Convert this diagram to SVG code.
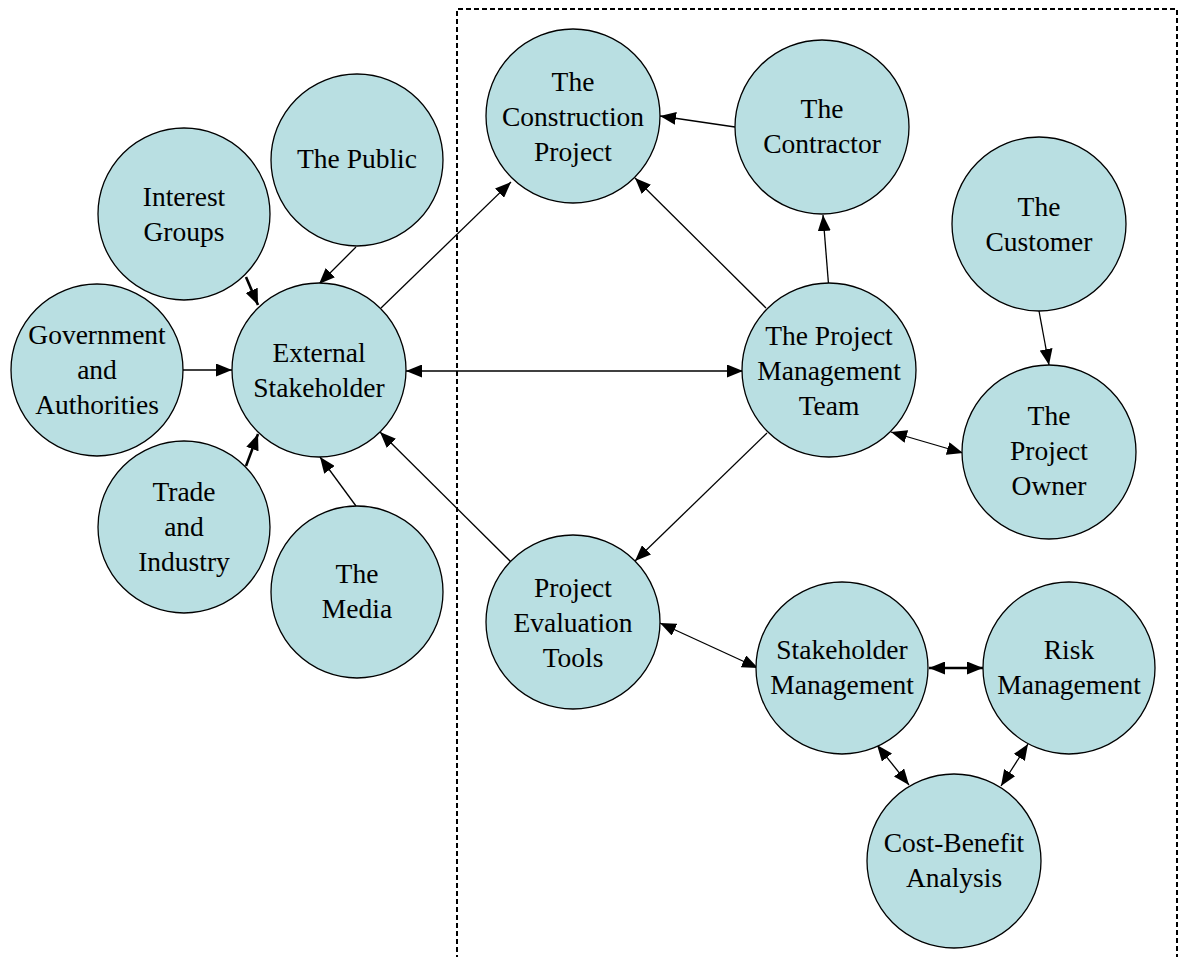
<svg xmlns="http://www.w3.org/2000/svg" width="1180" height="957" viewBox="0 0 1180 957">
  <style>
    .node circle { fill: #b9dfe2; stroke: #000; stroke-width: 1.3; }
    .node text { font-family: "Liberation Serif", "Times New Roman", serif; font-size: 27.5px; fill: #000; text-anchor: middle; }
    .edge { stroke: #000; stroke-width: 1.3; fill: none; }
    .bold { stroke-width: 2.6; }
    .frame { fill: none; stroke: #000; stroke-width: 2; stroke-dasharray: 5 3; }
  </style>
  <defs>
    <marker id="arrow" viewBox="0 0 16 13" refX="16" refY="6.5" markerWidth="16" markerHeight="13" markerUnits="userSpaceOnUse" orient="auto-start-reverse">
      <path d="M0,0 L16,6.5 L0,13 Z" fill="#000"/>
    </marker>
  </defs>

  <rect id="white" width="1180" height="957" fill="#fff"/>

  <!-- project boundary (dashed, open at the bottom) -->
  <path class="frame" d="M457,960 V9 H1177 V960"/>

  <!-- connectors -->
  <g id="connectors">
    <line class="edge bold" x1="246" y1="277" x2="258" y2="305" marker-end="url(#arrow)"/>
    <line class="edge" x1="356" y1="247" x2="319" y2="284" marker-end="url(#arrow)"/>
    <line class="edge" x1="183" y1="370" x2="232" y2="370" marker-end="url(#arrow)"/>
    <line class="edge bold" x1="246" y1="466" x2="258" y2="434" marker-end="url(#arrow)"/>
    <line class="edge" x1="356" y1="506" x2="320" y2="457" marker-end="url(#arrow)"/>
    <line class="edge" x1="511" y1="562" x2="380" y2="432" marker-end="url(#arrow)"/>
    <line class="edge" x1="381" y1="308" x2="511" y2="182" marker-end="url(#arrow)"/>
    <line class="edge" x1="406" y1="371" x2="743" y2="371" marker-start="url(#arrow)" marker-end="url(#arrow)"/>
    <line class="edge" x1="735" y1="127" x2="660" y2="116" marker-end="url(#arrow)"/>
    <line class="edge" x1="766" y1="308" x2="635" y2="178" marker-end="url(#arrow)"/>
    <line class="edge" x1="828.5" y1="284" x2="823" y2="215" marker-end="url(#arrow)"/>
    <line class="edge" x1="1039" y1="311" x2="1049" y2="365" marker-end="url(#arrow)"/>
    <line class="edge" x1="891" y1="432" x2="963" y2="453" marker-start="url(#arrow)" marker-end="url(#arrow)"/>
    <line class="edge" x1="767" y1="433" x2="635" y2="561" marker-end="url(#arrow)"/>
    <line class="edge" x1="660" y1="623" x2="758" y2="668" marker-start="url(#arrow)" marker-end="url(#arrow)"/>
    <line class="edge bold" x1="929" y1="668" x2="983" y2="668" marker-start="url(#arrow)" marker-end="url(#arrow)"/>
    <line class="edge" x1="877" y1="745" x2="909" y2="785" marker-start="url(#arrow)" marker-end="url(#arrow)"/>
    <line class="edge" x1="1028" y1="744" x2="1001" y2="786" marker-start="url(#arrow)" marker-end="url(#arrow)"/>
  </g>

  <!-- stakeholder nodes outside the project -->
  <g id="interest-groups" class="node">
    <circle cx="184" cy="214" r="86"/>
    <text x="184" y="206">Interest</text>
    <text x="184" y="241">Groups</text>
  </g>
  <g id="the-public" class="node">
    <circle cx="357" cy="160" r="86"/>
    <text x="357" y="168">The Public</text>
  </g>
  <g id="government" class="node">
    <circle cx="97" cy="370" r="86"/>
    <text x="97" y="344">Government</text>
    <text x="97" y="379">and</text>
    <text x="97" y="414">Authorities</text>
  </g>
  <g id="external-stakeholder" class="node">
    <circle cx="319" cy="370" r="87"/>
    <text x="319" y="362">External</text>
    <text x="319" y="397">Stakeholder</text>
  </g>
  <g id="trade-industry" class="node">
    <circle cx="184" cy="527" r="86"/>
    <text x="184" y="501">Trade</text>
    <text x="184" y="536">and</text>
    <text x="184" y="571">Industry</text>
  </g>
  <g id="the-media" class="node">
    <circle cx="357" cy="592" r="86"/>
    <text x="357" y="583">The</text>
    <text x="357" y="618">Media</text>
  </g>

  <!-- nodes inside the project boundary -->
  <g id="construction-project" class="node">
    <circle cx="573" cy="116" r="87"/>
    <text x="573" y="91">The</text>
    <text x="573" y="126">Construction</text>
    <text x="573" y="161">Project</text>
  </g>
  <g id="contractor" class="node">
    <circle cx="822" cy="127" r="87"/>
    <text x="822" y="118">The</text>
    <text x="822" y="153">Contractor</text>
  </g>
  <g id="customer" class="node">
    <circle cx="1039" cy="224" r="87"/>
    <text x="1039" y="216">The</text>
    <text x="1039" y="251">Customer</text>
  </g>
  <g id="pm-team" class="node">
    <circle cx="829" cy="370" r="87"/>
    <text x="829" y="345">The Project</text>
    <text x="829" y="380">Management</text>
    <text x="829" y="415">Team</text>
  </g>
  <g id="project-owner" class="node">
    <circle cx="1049" cy="452" r="87"/>
    <text x="1049" y="425">The</text>
    <text x="1049" y="460">Project</text>
    <text x="1049" y="495">Owner</text>
  </g>
  <g id="evaluation-tools" class="node">
    <circle cx="573" cy="622" r="87"/>
    <text x="573" y="597">Project</text>
    <text x="573" y="632">Evaluation</text>
    <text x="573" y="667">Tools</text>
  </g>
  <g id="stakeholder-management" class="node">
    <circle cx="842" cy="668" r="86"/>
    <text x="842" y="659">Stakeholder</text>
    <text x="842" y="694">Management</text>
  </g>
  <g id="risk-management" class="node">
    <circle cx="1069" cy="668" r="86"/>
    <text x="1069" y="659">Risk</text>
    <text x="1069" y="694">Management</text>
  </g>
  <g id="cost-benefit" class="node">
    <circle cx="954" cy="861" r="87"/>
    <text x="954" y="852">Cost-Benefit</text>
    <text x="954" y="887">Analysis</text>
  </g>
</svg>
